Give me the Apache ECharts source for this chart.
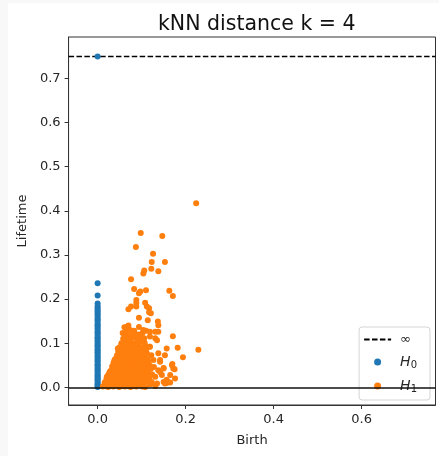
<!DOCTYPE html>
<html>
<head>
<meta charset="utf-8">
<script src="https://cdn.jsdelivr.net/npm/echarts@6/dist/echarts.min.js"></script>
<style>
  html, body { margin: 0; padding: 0; background: #f8f8f8; }
  #chart { position: absolute; left: 8px; top: 3px; width: 431px; height: 453px; background: #ffffff; }
</style>
</head>
<body>
<div id="chart"></div>
<script>
// Persistence diagram of kNN-distance filtration (k = 4)
const titleText = 'kNN distance k = 4';
const xTicks = [0.0, 0.2, 0.4, 0.6];
const yTicks = [0.0, 0.1, 0.2, 0.3, 0.4, 0.5, 0.6, 0.7];
const infValue = 0.75;
const xRange = [-0.066, 0.768];
const yRange = [-0.040, 0.794];

// H0 classes: [birth, lifetime]; the essential class sits on the infinity line
const h0Lifetimes = [0.236, 0.208, 0.190, 0.184, 0.179, 0.175, 0.171, 0.167, 0.163, 0.158,
  0.154, 0.151, 0.146, 0.142, 0.139, 0.135, 0.131, 0.126, 0.123, 0.119, 0.114, 0.111,
  0.107, 0.103, 0.099, 0.095, 0.092, 0.087, 0.084, 0.080, 0.077, 0.072, 0.069, 0.065,
  0.061, 0.058, 0.053, 0.050, 0.046, 0.042, 0.039, 0.035, 0.031, 0.027, 0.024, 0.020,
  0.017, 0.013, 0.009, 0.006, 0.003, 0.001, 0.750];
const h0Births = h0Lifetimes.map(() => 0);

// H1 classes: [birth, lifetime]
const h1Points = [
  [0.012,0.002],[0.018,0.004],[0.024,0.001],[0.030,0.003],[0.036,0.002],[0.043,0.005],[0.049,0.001],[0.056,0.003],[0.062,0.002],[0.069,0.004],[0.075,0.001],[0.082,0.003],[0.088,0.002],[0.094,0.005],[0.101,0.002],[0.108,0.001],[0.119,0.007],[0.131,0.003],[0.157,0.010],[0.165,0.011],[0.150,0.012],
  [0.016,0.011],[0.022,0.013],[0.029,0.010],[0.035,0.014],[0.041,0.012],[0.047,0.009],[0.054,0.013],[0.060,0.011],[0.067,0.014],[0.073,0.010],[0.079,0.012],[0.086,0.015],[0.092,0.011],[0.098,0.013],[0.105,0.010],[0.112,0.014],[0.123,0.012],
  [0.020,0.019],[0.027,0.022],[0.033,0.020],[0.039,0.023],[0.046,0.018],[0.052,0.021],[0.058,0.024],[0.065,0.020],[0.071,0.022],[0.077,0.019],[0.084,0.023],[0.090,0.020],[0.097,0.022],[0.103,0.019],[0.110,0.023],[0.118,0.021],[0.131,0.024],
  [0.024,0.028],[0.031,0.031],[0.037,0.029],[0.044,0.032],[0.050,0.027],[0.056,0.030],[0.063,0.033],[0.069,0.028],[0.075,0.031],[0.082,0.029],[0.088,0.032],[0.095,0.028],[0.101,0.031],[0.108,0.030],[0.115,0.033],[0.124,0.029],[0.142,0.035],
  [0.029,0.037],[0.035,0.040],[0.041,0.038],[0.048,0.041],[0.054,0.036],[0.060,0.039],[0.067,0.042],[0.073,0.037],[0.080,0.040],[0.086,0.038],[0.093,0.041],[0.099,0.036],[0.106,0.040],[0.113,0.038],[0.121,0.042],[0.175,0.041],[0.150,0.044],
  [0.033,0.047],[0.039,0.049],[0.045,0.046],[0.052,0.050],[0.058,0.047],[0.064,0.045],[0.071,0.049],[0.077,0.047],[0.084,0.050],[0.090,0.046],[0.097,0.048],[0.104,0.051],[0.111,0.047],[0.119,0.049],[0.128,0.046],[0.170,0.053],
  [0.036,0.055],[0.043,0.058],[0.049,0.056],[0.055,0.059],[0.062,0.054],[0.068,0.057],[0.075,0.060],[0.081,0.055],[0.088,0.058],[0.094,0.056],[0.101,0.059],[0.108,0.055],[0.116,0.058],[0.142,0.062],
  [0.040,0.064],[0.046,0.067],[0.053,0.065],[0.059,0.068],[0.066,0.063],[0.072,0.066],[0.079,0.069],[0.085,0.064],[0.092,0.067],[0.099,0.065],[0.106,0.068],[0.114,0.064],[0.194,0.068],
  [0.044,0.073],[0.050,0.076],[0.057,0.074],[0.063,0.077],[0.070,0.072],[0.077,0.075],[0.083,0.078],[0.090,0.073],[0.097,0.076],[0.104,0.074],[0.112,0.077],[0.122,0.073],[0.138,0.077],[0.153,0.073],
  [0.047,0.082],[0.053,0.085],[0.060,0.083],[0.067,0.086],[0.074,0.081],[0.081,0.084],[0.088,0.087],[0.095,0.082],[0.102,0.085],[0.110,0.083],[0.157,0.088],[0.182,0.090],[0.229,0.085],
  [0.050,0.091],[0.057,0.094],[0.064,0.092],[0.071,0.095],[0.078,0.090],[0.085,0.093],[0.093,0.096],[0.100,0.091],[0.108,0.094],[0.118,0.092],
  [0.054,0.100],[0.061,0.103],[0.068,0.101],[0.075,0.104],[0.083,0.099],[0.091,0.102],[0.099,0.105],[0.107,0.101],[0.074,0.107],
  [0.058,0.110],[0.066,0.112],[0.073,0.109],[0.081,0.113],[0.089,0.110],[0.097,0.114],[0.106,0.111],[0.119,0.115],[0.131,0.111],[0.171,0.116],
  [0.061,0.119],[0.069,0.121],[0.077,0.118],[0.084,0.122],[0.093,0.120],[0.102,0.123],
  [0.066,0.130],[0.074,0.130],[0.083,0.128],[0.094,0.137],[0.104,0.130],[0.110,0.128],[0.119,0.126],[0.131,0.126],[0.066,0.137],[0.070,0.140],
  [0.138,0.141],[0.137,0.149],[0.114,0.152],[0.094,0.158],[0.117,0.170],[0.117,0.179],[0.070,0.177],[0.076,0.183],[0.088,0.183],[0.088,0.191],
  [0.108,0.192],[0.088,0.198],[0.094,0.213],[0.083,0.223],[0.110,0.220],[0.097,0.217],[0.163,0.219],[0.171,0.207],[0.076,0.245],[0.104,0.258],
  [0.106,0.265],[0.122,0.269],[0.138,0.263],[0.123,0.284],[0.153,0.284],[0.126,0.303],[0.087,0.318],[0.098,0.350],[0.147,0.343],[0.224,0.417],
  [0.121,0.168],[0.112,0.183],[0.138,0.126],[0.169,0.050],[0.172,0.043],[0.150,0.043],[0.138,0.039],[0.146,0.028],[0.165,0.028],[0.157,0.017],
  [0.176,0.020],[0.153,0.009],[0.135,0.009],[0.135,0.107],[0.119,0.092],[0.127,0.062],[0.142,0.058],[0.119,0.007],
  [0.027,0.034],[0.038,0.061],[0.046,0.088],[0.057,0.123],[0.021,0.024],[0.061,0.136]
];

const h0Points = h0Births.map((b, i) => [b, h0Lifetimes[i]]);
const infLine = [[xRange[0], infValue], [xRange[1], infValue]];

const FONT = 'DejaVu Sans';
const TXT = '#262626';

const chart = echarts.init(document.getElementById('chart'), null, { renderer: 'canvas' });

chart.setOption({
  animation: false,
  backgroundColor: '#ffffff',
  title: {
    text: titleText,
    left: 145, top: 6,
    textStyle: { fontFamily: FONT, fontSize: 20.5, fontWeight: 'normal', color: '#111' }
  },
  grid: {
    left: 60, top: 34, width: 367.5, height: 368,
    show: true, borderColor: '#333', borderWidth: 1, backgroundColor: '#fff'
  },
  legend: {
    orient: 'vertical',
    right: 9, top: 324,
    data: [
      { name: '∞', itemStyle: { opacity: 0 } },
      { name: 'H0' },
      { name: 'H1' }
    ],
    itemWidth: 27, itemHeight: 7, itemGap: 8,
    padding: [6, 13, 6, 4],
    backgroundColor: 'rgba(255,255,255,0.85)',
    borderColor: '#d5d5d5', borderWidth: 1, borderRadius: 3,
    formatter: (name) => name === '∞' ? '{inf|∞}' : '{i|H}{s|' + name.slice(1) + '}',
    textStyle: {
      fontFamily: FONT, color: TXT, fontSize: 13,
      rich: {
        inf: { fontFamily: FONT, fontSize: 13, color: TXT, lineHeight: 16, padding: [0, 0, 0, 4] },
        i: { fontFamily: FONT, fontSize: 14, fontStyle: 'italic', color: TXT, lineHeight: 16, padding: [0, 0, 0, 4] },
        s: { fontFamily: FONT, fontSize: 10, color: TXT, lineHeight: 16, verticalAlign: 'bottom', padding: [6, 0, 0, 0] }
      }
    }
  },
  xAxis: {
    type: 'value', min: xRange[0], max: xRange[1],
    name: 'Birth', nameLocation: 'middle', nameGap: 29,
    nameTextStyle: { fontFamily: FONT, fontSize: 13, color: TXT },
    axisLine: { show: true, onZero: false, lineStyle: { color: '#333', width: 1 } },
    axisTick: { show: true, length: 4, inside: false, customValues: xTicks, lineStyle: { color: '#333' } },
    axisLabel: { customValues: xTicks, margin: 8, fontFamily: FONT, fontSize: 13, color: TXT, formatter: (v) => v.toFixed(1) },
    splitLine: { show: false }
  },
  yAxis: {
    type: 'value', min: yRange[0], max: yRange[1],
    name: 'Lifetime', nameLocation: 'middle', nameGap: 35,
    nameTextStyle: { fontFamily: FONT, fontSize: 13, color: TXT },
    axisLine: { show: true, onZero: false, lineStyle: { color: '#333', width: 1 } },
    axisTick: { show: true, length: 4, inside: false, customValues: yTicks, lineStyle: { color: '#333' } },
    axisLabel: { customValues: yTicks, margin: 8, fontFamily: FONT, fontSize: 13, color: TXT, formatter: (v) => v.toFixed(1) },
    splitLine: { show: false }
  },
  series: [
    {
      name: '∞', type: 'line', data: infLine, symbol: 'none', silent: true,
      lineStyle: { color: '#000', width: 1.5, type: [5.5, 2.4] },
      itemStyle: { color: '#000' }, z: 1
    },
    {
      name: 'H0', type: 'scatter', data: h0Points, symbolSize: 6,
      itemStyle: { color: '#1f77b4', opacity: 1 }, z: 2
    },
    {
      name: 'H1', type: 'scatter', data: h1Points, symbolSize: 6,
      itemStyle: { color: '#ff7f0e', opacity: 1 }, z: 3,
      markLine: {
        silent: true, symbol: ['none', 'none'], label: { show: false },
        lineStyle: { color: '#111', width: 1.6, type: 'solid' },
        data: [{ yAxis: 0 }]
      }
    }
  ]
});
</script>
</body>
</html>
